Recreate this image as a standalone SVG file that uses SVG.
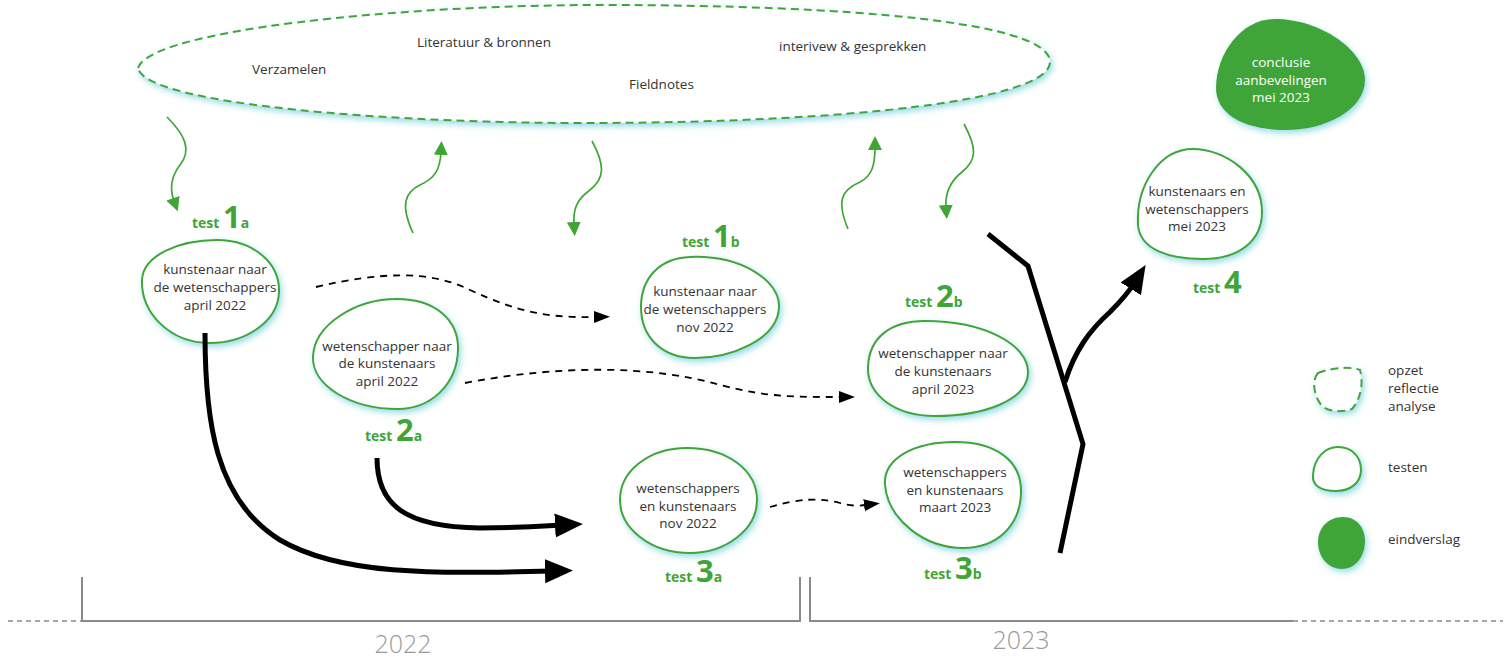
<svg xmlns="http://www.w3.org/2000/svg" width="1509" height="657" viewBox="0 0 1509 657">
<style>
.t{font-family:"Open Sans","Noto Sans","Liberation Sans",sans-serif;font-size:13.5px;fill:#333;text-anchor:middle}
.tl{font-family:"Open Sans","Noto Sans","Liberation Sans",sans-serif;font-size:13.5px;fill:#333}
.w{fill:#fff}
.lab{font-family:"Open Sans","Noto Sans","Liberation Sans",sans-serif;font-weight:700;fill:#40a537;font-size:14px}
.big{font-size:31px}
.blob{fill:#fff;stroke:#40a537;stroke-width:2}
.fill{fill:#40a537;stroke:none}
.dash{fill:#fff;stroke:#40a537;stroke-width:2;stroke-dasharray:8 5}
.garr{fill:none;stroke:#40a537;stroke-width:1.7}
.barr{fill:none;stroke:#000;stroke-width:5}
.darr{fill:none;stroke:#000;stroke-width:1.8;stroke-dasharray:7 6}
.axis{fill:none;stroke:#8a8a8a;stroke-width:2}
.axd{fill:none;stroke:#8a8a8a;stroke-width:1.6;stroke-dasharray:5 4}
.yr{font-family:"Open Sans","Noto Sans","Liberation Sans",sans-serif;font-weight:300;font-size:25px;fill:#999;text-anchor:middle}
</style>
<defs>
<filter id="glow" x="-20%" y="-20%" width="140%" height="150%">
<feGaussianBlur in="SourceAlpha" stdDeviation="3"/>
<feOffset dx="2" dy="3" result="b"/>
<feFlood flood-color="#7fd3e0" flood-opacity="0.8"/>
<feComposite in2="b" operator="in"/>
<feMerge><feMergeNode/><feMergeNode in="SourceGraphic"/></feMerge>
</filter>
<marker id="ag" markerUnits="userSpaceOnUse" markerWidth="16" markerHeight="14" refX="3" refY="7" orient="auto"><path d="M0,0 L14,7 L0,14 Z" fill="#40a537"/></marker>
<marker id="ab" markerUnits="userSpaceOnUse" markerWidth="30" markerHeight="26" refX="8" refY="13" orient="auto"><path d="M0,1 L28,13 L0,25 Z" fill="#000"/></marker>
<marker id="ad" markerUnits="userSpaceOnUse" markerWidth="18" markerHeight="14" refX="2" refY="7" orient="auto"><path d="M0,1 L16,7 L0,13 Z" fill="#000"/></marker>
</defs>
<rect width="1509" height="657" fill="#fff"/>

<g id="timeline">
<path class="axd" d="M8,621 H82"/>
<path class="axis" d="M82,577 V621 H800 V577"/>
<path class="axis" d="M810,577 V621 H1293"/>
<path class="axd" d="M1293,621 H1503"/>
<text class="yr" x="403" y="653">2022</text>
<text class="yr" x="1021" y="649">2023</text>
</g>

<g id="onderzoek">
<path class="dash" filter="url(#glow)" d="M138,68 C150,30 400,5 600,5 C850,5 1050,22 1050,62 C1050,100 850,122 600,123 C400,124 145,105 138,68 Z"/>
<text class="tl" x="252" y="74">Verzamelen</text>
<text class="tl" x="417" y="47">Literatuur &amp; bronnen</text>
<text class="tl" x="779" y="51">interivew &amp; gesprekken</text>
<text class="tl" x="629" y="89">Fieldnotes</text>
</g>

<g id="conclusie">
<path class="fill" filter="url(#glow)" d="M1275,19 C1320,19 1365,50 1365,80 C1365,110 1325,130 1287,130 C1245,130 1216,115 1216,88 C1216,55 1240,19 1275,19 Z"/>
<text class="t w" x="1281" y="67">conclusie</text>
<text class="t w" x="1281" y="85">aanbevelingen</text>
<text class="t w" x="1281" y="102">mei 2023</text>
</g>

<g id="test1a">
<path class="blob" filter="url(#glow)" d="M217,240 C252,240 280,262 279,292 C278,322 245,343 210,343 C170,343 141,313 142,280 C143,255 180,240 217,240 Z"/>
<text class="t" x="215" y="274">kunstenaar naar</text>
<text class="t" x="215" y="292">de wetenschappers</text>
<text class="t" x="215" y="310">april 2022</text>
<text class="lab" x="192" y="228">test <tspan class="big">1</tspan>a</text>
</g>

<g id="test2a">
<path class="blob" filter="url(#glow)" d="M397,299 C435,299 459,320 458,350 C457,385 430,409 398,409 C350,409 312,385 313,357 C314,325 355,299 397,299 Z"/>
<text class="t" x="387" y="351">wetenschapper naar</text>
<text class="t" x="387" y="368">de kunstenaars</text>
<text class="t" x="387" y="386">april 2022</text>
<text class="lab" x="365" y="441">test <tspan class="big">2</tspan>a</text>
</g>

<g id="test1b">
<path class="blob" filter="url(#glow)" d="M690,257 C740,255 780,280 779,307 C778,340 730,358 695,358 C660,358 641,335 641,307 C641,278 660,258 690,257 Z"/>
<text class="t" x="705" y="296">kunstenaar naar</text>
<text class="t" x="705" y="314">de wetenschappers</text>
<text class="t" x="705" y="332">nov 2022</text>
<text class="lab" x="682" y="247">test <tspan class="big">1</tspan>b</text>
</g>

<g id="test2b">
<path class="blob" filter="url(#glow)" d="M925,321 C985,321 1028,345 1028,372 C1028,400 985,416 935,416 C895,416 867,395 868,367 C869,338 890,321 925,321 Z"/>
<text class="t" x="943" y="358">wetenschapper naar</text>
<text class="t" x="943" y="376">de kunstenaars</text>
<text class="t" x="943" y="394">april 2023</text>
<text class="lab" x="905" y="307">test <tspan class="big">2</tspan>b</text>
</g>

<g id="test3a">
<path class="blob" filter="url(#glow)" d="M687,448 C727,448 757,470 757,500 C757,530 725,553 690,553 C650,553 620,528 620,500 C620,470 650,448 687,448 Z"/>
<text class="t" x="688" y="493">wetenschappers</text>
<text class="t" x="688" y="511">en kunstenaars</text>
<text class="t" x="688" y="528">nov 2022</text>
<text class="lab" x="665" y="582">test <tspan class="big">3</tspan>a</text>
</g>

<g id="test3b">
<path class="blob" filter="url(#glow)" d="M955,442 C995,442 1022,460 1021,493 C1020,525 998,548 963,548 C925,548 888,520 885,485 C883,458 915,442 955,442 Z"/>
<text class="t" x="955" y="477">wetenschappers</text>
<text class="t" x="955" y="495">en kunstenaars</text>
<text class="t" x="955" y="512">maart 2023</text>
<text class="lab" x="924" y="579">test <tspan class="big">3</tspan>b</text>
</g>

<g id="test4">
<path class="blob" filter="url(#glow)" d="M1193,149 C1225,149 1262,175 1262,212 C1262,240 1240,259 1203,259 C1170,259 1140,250 1138,225 C1136,185 1160,149 1193,149 Z"/>
<text class="t" x="1197" y="196">kunstenaars en</text>
<text class="t" x="1197" y="214">wetenschappers</text>
<text class="t" x="1197" y="231">mei 2023</text>
<text class="lab" x="1193" y="293">test <tspan class="big">4</tspan></text>
</g>

<g id="legend">
<path class="dash" filter="url(#glow)" d="M1318,373 C1330,368 1350,366 1360,370 C1364,385 1360,400 1352,409 C1340,413 1328,411 1322,406 C1313,395 1312,380 1318,373 Z"/>
<text class="tl" x="1388" y="375">opzet</text>
<text class="tl" x="1388" y="393">reflectie</text>
<text class="tl" x="1388" y="411">analyse</text>
<path class="blob" filter="url(#glow)" d="M1338,447 C1352,447 1361,457 1361,470 C1361,483 1350,491 1336,491 C1320,491 1312,485 1313,475 C1314,458 1325,447 1338,447 Z"/>
<text class="tl" x="1388" y="472">testen</text>
<path class="fill" filter="url(#glow)" d="M1343,517 C1357,517 1365,528 1365,541 C1365,557 1355,569 1342,569 C1328,569 1318,557 1318,542 C1318,528 1328,517 1343,517 Z"/>
<text class="tl" x="1388" y="544">eindverslag</text>
</g>

<g id="connectors">
<path class="garr" marker-end="url(#ag)" d="M167,117 C185,135 192,150 180,165 C170,178 170,190 174,201"/>
<path class="garr" marker-end="url(#ag)" d="M413,233 C400,205 405,192 420,185 C435,178 440,170 441,152"/>
<path class="garr" marker-end="url(#ag)" d="M592,141 C605,165 605,178 590,190 C576,200 573,210 574,225"/>
<path class="garr" marker-end="url(#ag)" d="M848,229 C836,200 842,190 860,182 C872,176 875,165 875,147"/>
<path class="garr" marker-end="url(#ag)" d="M964,124 C977,148 977,160 962,172 C948,183 945,195 946,208"/>
<path class="darr" marker-end="url(#ad)" d="M316,287 C380,272 430,270 470,290 C520,313 550,318 596,317"/>
<path class="darr" marker-end="url(#ad)" d="M465,383 C560,365 650,365 720,385 C770,398 800,397 841,397"/>
<path class="darr" marker-end="url(#ad)" d="M770,507 C800,498 820,498 840,503 C850,506 858,506 866,505"/>
<path class="barr" marker-end="url(#ab)" d="M205,333 C205,420 215,500 280,540 C340,575 430,574 553,571"/>
<path class="barr" marker-end="url(#ab)" d="M377,458 C377,505 405,527 480,528 C520,528 545,526 563,525"/>
<path class="barr" d="M988,234 L1028,266 L1083,444 L1060,553"/>
<path class="barr" marker-end="url(#ab)" d="M1065,382 C1075,350 1090,330 1110,312 C1122,300 1130,290 1135,282"/>
</g>
</svg>
